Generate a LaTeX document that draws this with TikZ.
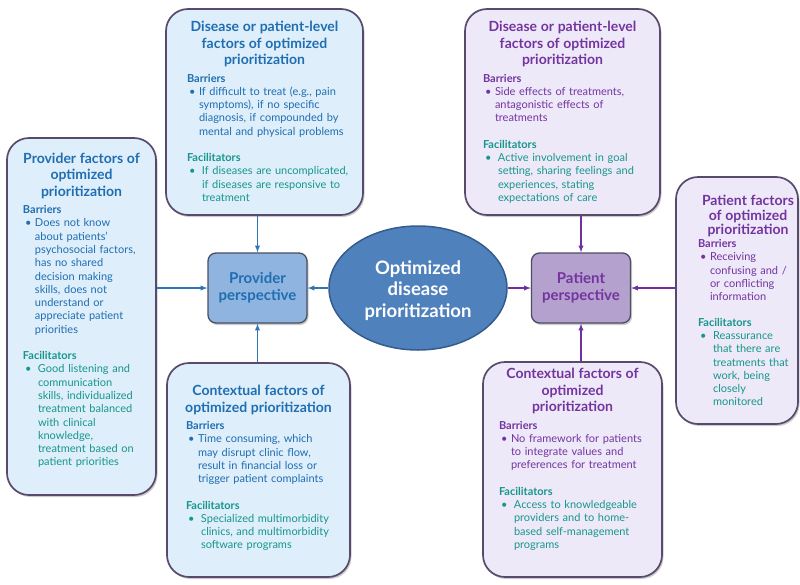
\documentclass[tikz,border=0pt]{standalone}
\usepackage{fontspec}
\setmainfont{Lato}
\usepackage{tikz}
\usetikzlibrary{shapes,positioning,shadows}
\usepackage{xcolor}

\definecolor{provblue}{RGB}{31,110,178}
\definecolor{patpurple}{RGB}{115,52,160}
\definecolor{facteal}{RGB}{22,150,140}
\definecolor{bluefill}{RGB}{222,238,251}
\definecolor{purplefill}{RGB}{238,233,248}
\definecolor{boxline}{RGB}{88,74,108}
\definecolor{ellfill}{RGB}{79,129,189}
\definecolor{ellline}{RGB}{52,92,142}
\definecolor{provbox}{RGB}{143,180,224}
\definecolor{patbox}{RGB}{180,161,206}
\definecolor{arrowblue}{RGB}{46,117,182}
\definecolor{arrowpurple}{RGB}{112,48,160}

% lines are broken by hand, so let them run past the text width
\newcommand{\factortitle}[2][16.5]{{\centering\leftskip=-40pt plus 1fil\rightskip=-40pt plus 1fil\hyphenpenalty=10000\fontsize{14}{#1}\selectfont\bfseries #2\par}}
\newcommand{\factorhead}[2][0pt]{\vspace{#1}{\bfseries #2\par}}
\newcommand{\baritem}[1]{{\let\\\newline\rightskip=-80pt plus 1fil\hyphenpenalty=10000\par\noindent\hangindent=12pt\hangafter=1\makebox[12pt][l]{\hspace{2pt}\textbullet}#1\par}}
\newcommand{\facitem}[1]{{\color{facteal}\let\\\newline\rightskip=-80pt plus 1fil\hyphenpenalty=10000\par\noindent\hangindent=15pt\hangafter=1\makebox[15pt][l]{\hspace{2pt}\textbullet}#1\par}}

\begin{document}
\begin{tikzpicture}[x=1pt,y=-1pt]
        %styles
        \tikzstyle{factorbox}=[rectangle, draw=boxline, line width=1.7pt, rounded corners=22pt, drop shadow={opacity=0.4, shadow xshift=1.5pt, shadow yshift=-2pt}]
        \tikzstyle{bluebox}=[factorbox, fill=bluefill]
        \tikzstyle{purplebox}=[factorbox, fill=purplefill]
        \tikzstyle{factortext}=[inner sep=0pt, anchor=north, align=left, font=\fontsize{11}{13.3}\selectfont]
        \tikzstyle{hub}=[ellipse, draw=ellline, line width=1.5pt, fill=ellfill, minimum width=178pt, minimum height=124pt, inner sep=0pt, align=center, text=white, font=\fontsize{18.5}{21.7}\selectfont\bfseries]
        \tikzstyle{persp}=[rectangle, rounded corners=8pt, draw={rgb,255:red,75;green,78;blue,98}, line width=1.3pt, minimum width=99pt, minimum height=70pt, align=center, font=\fontsize{15}{16.7}\selectfont\bfseries, drop shadow={opacity=0.4, shadow xshift=1.5pt, shadow yshift=-2pt}]
        \tikzstyle{bluearrow}=[->,>=latex, line width=1.3pt, draw=arrowblue]
        \tikzstyle{purplearrow}=[->,>=latex, line width=1.3pt, draw=arrowpurple]

        \useasboundingbox (0,0) rectangle (800,584);

        %boxes
        \node[bluebox, minimum width=197pt, minimum height=206pt] (dpl) at (264.5,112) {};
        \node[purplebox, minimum width=195pt, minimum height=206pt] (dpr) at (562.5,112) {};
        \node[bluebox, minimum width=149pt, minimum height=357pt] (prf) at (81.5,316.5) {};
        \node[purplebox, minimum width=122pt, minimum height=247pt] (paf) at (737,300.5) {};
        \node[bluebox, minimum width=183pt, minimum height=214pt] (cfl) at (258.5,470) {};
        \node[purplebox, minimum width=179pt, minimum height=215pt] (cfr) at (572.5,469.5) {};

        \node[hub] (ell) at (418,288) {\rule{0pt}{19pt}Optimized\\disease\\prioritization};
        \node[persp, fill=provbox, text=provblue] (pv) at (257.5,288) {Provider\\perspective};
        \node[persp, fill=patbox, text=patpurple] (pt) at (581,288) {Patient\\perspective};

        %box texts
        \node[factortext, text=provblue, text width=155pt] (dpl-txt) at ([yshift=-13pt]dpl.north) {
            \factortitle{Disease or patient-level\\factors of optimized\\prioritization}
            \factorhead[4pt]{Barriers}
            \baritem{If difficult to treat (e.g., pain\\symptoms), if no specific\\diagnosis, if compounded by\\mental and physical problems}
            \factorhead[13pt]{\color{facteal}Facilitators}
            \facitem{If diseases are uncomplicated,\\if diseases are responsive to\\treatment}
        };
        \node[factortext, text=patpurple, text width=159pt] (dpr-txt) at ([yshift=-13pt]dpr.north) {
            \factortitle{Disease or patient-level\\factors of optimized\\prioritization}
            \factorhead[4pt]{Barriers}
            \baritem{Side effects of treatments,\\antagonistic effects of\\treatments}
            \factorhead[13pt]{\color{facteal}Facilitators}
            \facitem{Active involvement in goal\\setting, sharing feelings and\\experiences, stating\\expectations of care}
        };
        \node[factortext, text=provblue, text width=117pt] (prf-txt) at ([yshift=-15.5pt]prf.north) {
            \factortitle{Provider factors of\\optimized\\prioritization}
            \factorhead[4pt]{Barriers}
            \baritem{Does not know\\about patients'\\psychosocial factors,\\has no shared\\decision making\\skills, does not\\understand or\\appreciate patient\\priorities}
            \factorhead[13pt]{\color{facteal}Facilitators}
            \facitem{Good listening and\\communication\\skills, individualized\\treatment balanced\\with clinical\\knowledge,\\treatment based on\\patient priorities}
        };
        \node[factortext, text=patpurple, text width=100pt] (paf-txt) at ([xshift=11pt,yshift=-19pt]paf.north) {
            \factortitle[14.3]{Patient factors\\of optimized\\prioritization}
            \factorhead[0pt]{Barriers}
            \baritem{Receiving\\confusing and /\\or conflicting\\information}
            \factorhead[12pt]{\color{facteal}Facilitators}
            \facitem{Reassurance\\that there are\\treatments that\\work, being\\closely\\monitored}
        };
        \node[factortext, text=provblue, text width=145pt] (cfl-txt) at ([yshift=-23pt]cfl.north) {
            \factortitle{Contextual factors of\\optimized prioritization}
            \factorhead[4pt]{Barriers}
            \baritem{Time consuming, which\\may disrupt clinic flow,\\result in financial loss or\\trigger patient complaints}
            \factorhead[13pt]{\color{facteal}Facilitators}
            \facitem{Specialized multimorbidity\\clinics, and multimorbidity\\software programs}
        };
        \node[factortext, text=patpurple, text width=147pt] (cfr-txt) at ([yshift=-7pt]cfr.north) {
            \factortitle{Contextual factors of\\optimized\\prioritization}
            \factorhead[4pt]{Barriers}
            \baritem{No framework for patients\\to integrate values and\\preferences for treatment}
            \factorhead[13pt]{\color{facteal}Facilitators}
            \facitem{Access to knowledgeable\\providers and to home-\\based self-management\\programs}
        };

        %arrows
        \draw[bluearrow] (dpl.south -| pv.north) -- (pv.north);
        \draw[bluearrow] (cfl.north -| pv.south) -- (pv.south);
        \draw[bluearrow] (pv.west -| prf.east) -- (pv.west);
        \draw[bluearrow] (ell.west) -- (pv.east);

        \draw[purplearrow] (ell.east) -- (pt.west);
        \draw[purplearrow] (dpr.south -| pt.north) -- (pt.north);
        \draw[purplearrow] (cfr.north -| pt.south) -- (pt.south);
        \draw[purplearrow] (pt.east -| paf.west) -- (pt.east);
\end{tikzpicture}
\end{document}
